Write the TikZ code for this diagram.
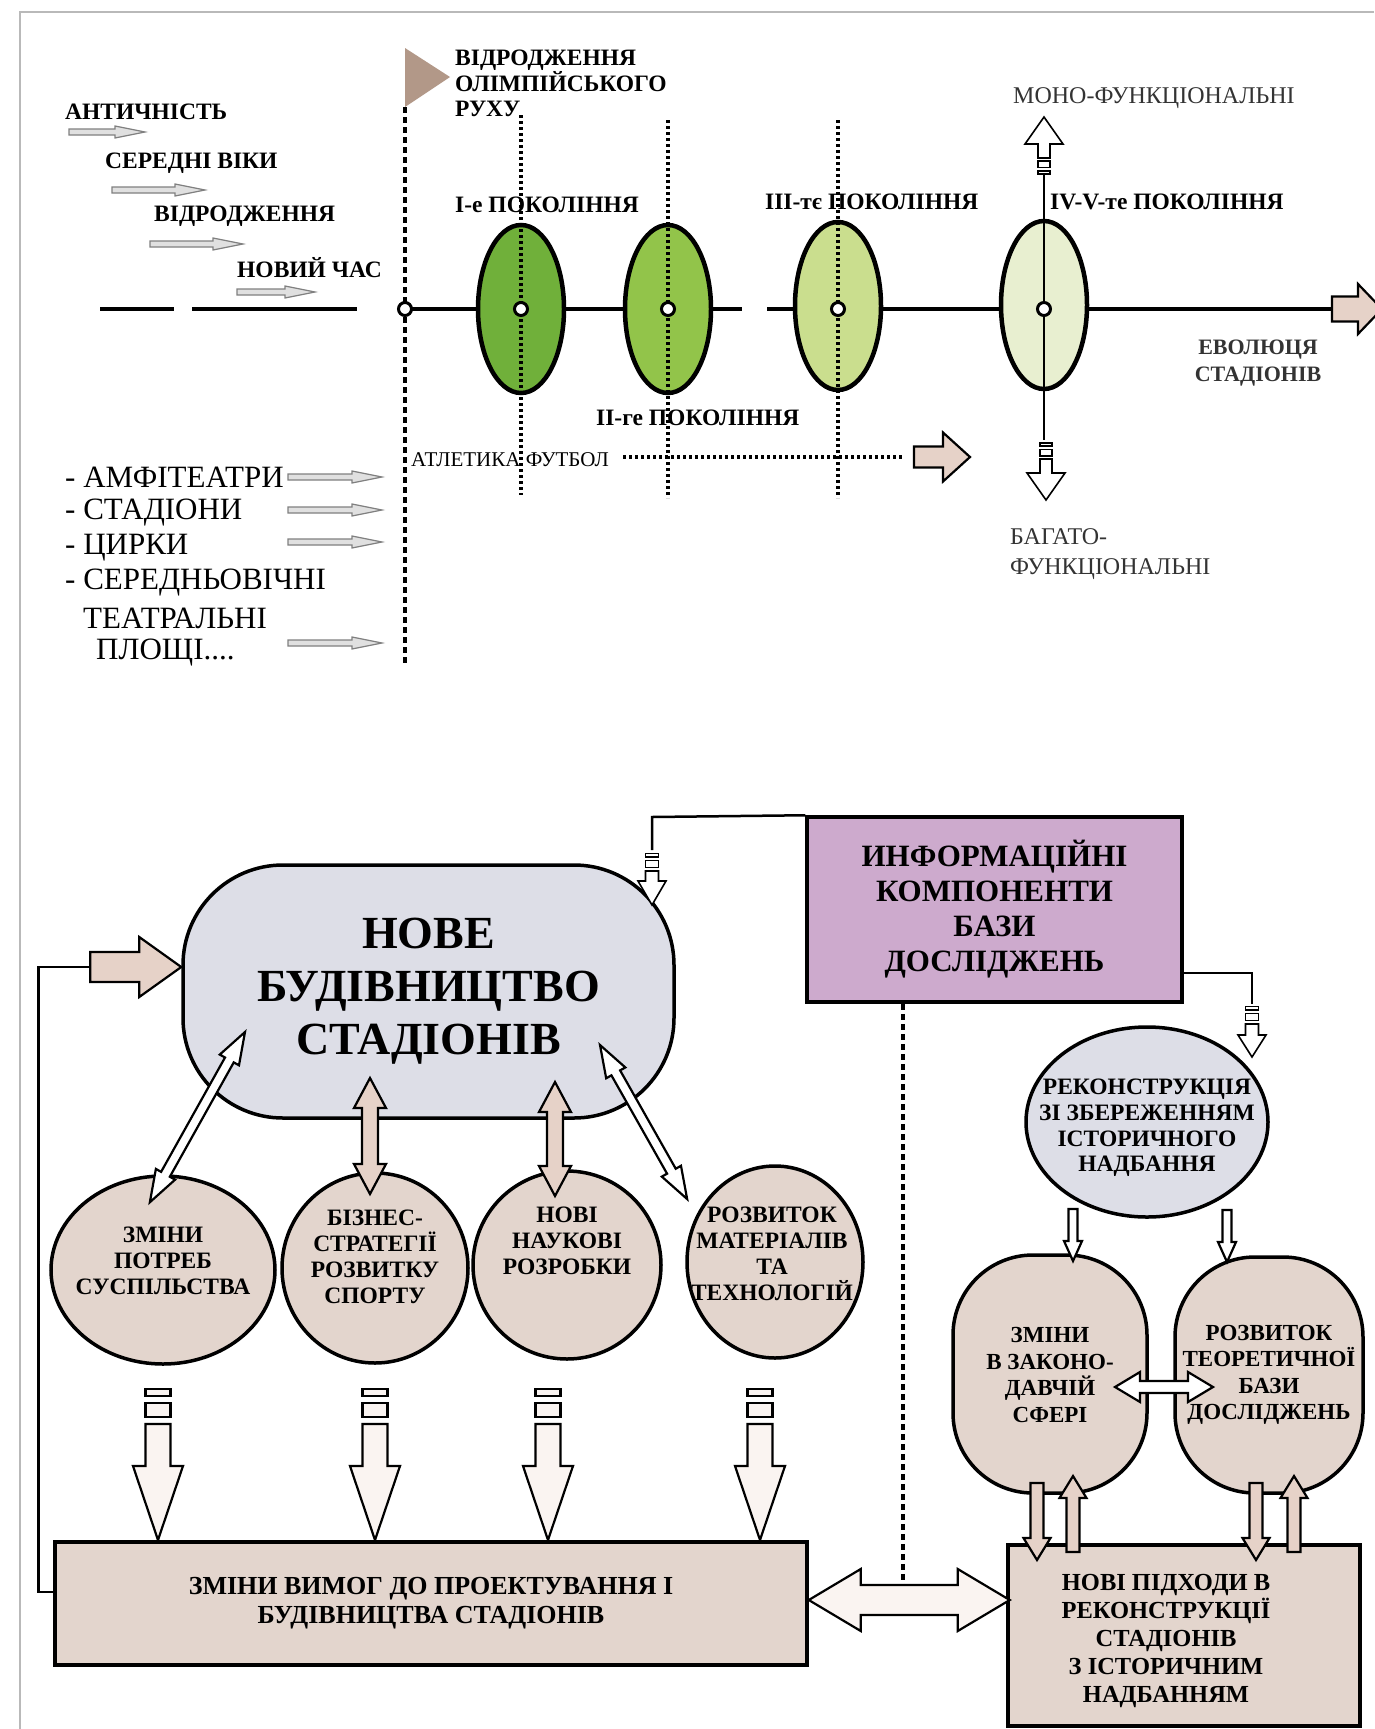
\documentclass[tikz,border=0pt]{standalone}
\usepackage{fontspec}
\setmainfont{Liberation Serif}
\usetikzlibrary{shapes.geometric,calc}

\definecolor{greenA}{RGB}{112,176,58}
\definecolor{greenB}{RGB}{146,196,74}
\definecolor{greenC}{RGB}{202,222,142}
\definecolor{greenD}{RGB}{232,239,208}
\definecolor{lav}{RGB}{221,222,231}
\definecolor{lilac}{RGB}{205,170,205}
\definecolor{beige}{RGB}{227,213,205}
\definecolor{pinkarr}{RGB}{230,210,200}
\definecolor{palearr}{RGB}{250,244,241}
\definecolor{flagc}{RGB}{178,152,136}

\tikzset{
  % block arrow, tip at the origin, pointing along +x
  pics/blk/.style n args={4}{code={%
    \path[pic actions] (-#1,-#2) -- (-#4,-#2) -- (-#4,-#3) -- (0,0) -- (-#4,#3) -- (-#4,#2) -- (-#1,#2) -- cycle;}},
  % the same with two small bars behind the tail
  pics/blkb/.style n args={5}{code={%
    \path[pic actions] (-#1-5*#5,-#2) rectangle (-#1-4*#5,#2);
    \path[pic actions] (-#1-3*#5,-#2) rectangle (-#1-#5,#2);
    \path[pic actions] (-#1,-#2) -- (-#4,-#2) -- (-#4,-#3) -- (0,0) -- (-#4,#3) -- (-#4,#2) -- (-#1,#2) -- cycle;}},
  % two-headed block arrow from the origin along +x
  pics/dblk/.style n args={4}{code={%
    \path[pic actions] (0,0) -- (#4,-#3) -- (#4,-#2) -- ({#1-#4},-#2) -- ({#1-#4},-#3) -- (#1,0)
      -- ({#1-#4},#3) -- ({#1-#4},#2) -- (#4,#2) -- (#4,#3) -- cycle;}},
  lbl/.style={font=\bfseries\fontsize{23.5}{25}\selectfont, inner sep=0pt},
  lblr/.style={font=\fontsize{24}{30}\selectfont, inner sep=0pt, text=black!80},
  lst/.style={font=\fontsize{31}{34}\selectfont, inner sep=0pt},
  ctext/.style={font=\bfseries\fontsize{23.5}{26}\selectfont, inner sep=0pt, align=center},
  gen/.style={ellipse, draw, line width=4.5pt, minimum width=86pt, minimum height=168pt},
  dotc/.style={circle, draw, fill=white, line width=3pt, minimum size=13pt, inner sep=0pt},
  disc/.style={ellipse, draw, line width=3.5pt, fill=beige, inner sep=0pt},
  oval/.style={rectangle, rounded corners=80pt, draw, line width=3.5pt, fill=beige},
  box/.style={rectangle, draw, line width=3.5pt},
  tline/.style={line width=4.5pt},
  gdots/.style={line width=3.2pt, dash pattern=on 3pt off 3pt},
  bigdots/.style={line width=4.5pt, dash pattern=on 6pt off 4pt},
  conn/.style={line width=2.5pt},
  arrw/.style={draw, line width=2.2pt, line join=miter},
  thinarrw/.style={draw, line width=1.6pt, line join=miter, fill=white},
  grayarr/.style={draw=black!50, fill=black!12, line width=1.2pt},
}

\begin{document}
\begin{tikzpicture}[x=1pt,y=-1pt]
  \useasboundingbox (0,0) rectangle (1374,1729);
  \draw[gray!55, line width=2pt] (20,1729) -- (20,12) -- (1374,12);

  % epochs
  \node[lbl, anchor=west] (ant) at (65,112) {АНТИЧНІСТЬ};
  \node[lbl, anchor=west] (sv) at (105,163) {СЕРЕДНІ ВІКИ};
  \node[lbl, anchor=west] (vid) at (154,216) {ВІДРОДЖЕННЯ};
  \node[lbl, anchor=west] (nch) at (237,268) {НОВИЙ ЧАС};
  \pic[grayarr] at (145,132) {blk={76}{3}{6}{30}};
  \pic[grayarr] at (205,190) {blk={93}{3}{6}{30}};
  \pic[grayarr] at (243,244) {blk={93}{3}{6}{30}};
  \pic[grayarr] at (315,292) {blk={78}{3}{6}{30}};

  % time axis
  \draw[tline] (100,309) -- (174,309) (192,309) -- (357,309);
  \draw[tline] (405,309) -- (742,309) (767,309) -- (1334,309);
  \pic[arrw, fill=pinkarr] at (1382,309) {blk={50}{12.5}{25}{24}};

  \node[gen, fill=greenA] (g1) at (521,309) {};
  \node[gen, fill=greenB] (g2) at (668,309) {};
  \node[gen, fill=greenC] (g3) at (838,306) {};
  \node[gen, fill=greenD] (g4) at (1044,305) {};
  \draw[gdots] (g1 |- 0,115) -- (g1 |- 0,495);
  \draw[gdots] (g2 |- 0,120) -- (g2 |- 0,498);
  \draw[gdots] (g3 |- 0,120) -- (g3 |- 0,498);
  \draw[conn] (g4 |- 0,175) -- (g4 |- 0,440);

  \fill[flagc] (405,48) -- (450,77) -- (405,107) -- cycle;
  \draw[bigdots] (405,107) -- (405,665);
  \node[dotc] (t0) at (405,309) {};
  \foreach \g in {g1,g2,g3,g4}
    \node[dotc] (\g c) at (\g |- 0,309) {};

  \node[lbl, anchor=north west, align=left] (olymp) at (455,50) {ВІДРОДЖЕННЯ\\ОЛІМПІЙСЬКОГО\\РУХУ};
  \node[lbl, anchor=west] (p1) at (455,205) {І-е ПОКОЛІННЯ};
  \node[lbl, anchor=west] (p2) at (596,418) {ІІ-ге ПОКОЛІННЯ};
  \node[lbl, anchor=west] (p3) at (765,202) {ІІІ-тє ПОКОЛІННЯ};
  \node[lbl, anchor=west] (p4) at (1050,202) {IV-V-те ПОКОЛІННЯ};

  \node[lblr, anchor=west] (mono) at (1013,98) {МОНО-ФУНКЦІОНАЛЬНІ};
  \node[lblr, anchor=north west, align=left] (multi) at (1010,528) {БАГАТО-\\ФУНКЦІОНАЛЬНІ};
  \node[lbl, align=center, font=\bfseries\fontsize{22}{27}\selectfont, text=black!80] (evol) at (1258,363) {ЕВОЛЮЦЯ\\СТАДІОНІВ};
  \pic[thinarrw, rotate=90] at (1044,117) {blkb={41}{6}{19}{27}{3.2}};
  \pic[thinarrw, rotate=-90] at (1046,500) {blkb={41}{6}{19}{27}{3.2}};

  \node[inner sep=0pt, anchor=west, font=\fontsize{21}{22}\selectfont] (atl) at (411,460) {АТЛЕТИКА ФУТБОЛ};
  \draw[gdots] (623,457) -- (903,457);
  \pic[arrw, fill=pinkarr] at (970,457) {blk={56}{10.5}{24.5}{27}};

  % early venues
  \node[lst, anchor=west] (l1) at (65,477) {- АМФІТЕАТРИ};
  \node[lst, anchor=west] (l2) at (65,513) {- СТАДІОНИ};
  \node[lst, anchor=west] (l3) at (65,548) {- ЦИРКИ};
  \node[lst, anchor=west] (l4) at (65,583) {- СЕРЕДНЬОВІЧНІ};
  \node[lst, anchor=west] (l5) at (83,618) {ТЕАТРАЛЬНІ};
  \node[lst, anchor=west] (l6) at (96,653) {ПЛОЩІ....};
  \foreach \y in {477,510,542,643}
    \pic[grayarr] at (382,\y) {blk={94}{3}{6}{30}};

  % ---- lower scheme
  \node[rectangle, rounded corners=100pt, draw, line width=3.5pt, fill=lav, minimum width=491pt, minimum height=253pt,
        align=center, font=\bfseries\fontsize{46}{53}\selectfont] (nove) at (428.5,991.5) {НОВЕ\\БУДІВНИЦТВО\\СТАДІОНІВ};
  \node[box, fill=lilac, minimum width=375pt, minimum height=185pt, align=center,
        font=\bfseries\fontsize{31}{35}\selectfont] (info) at (994.5,909.5) {ИНФОРМАЦІЙНІ\\КОМПОНЕНТИ\\БАЗИ\\ДОСЛІДЖЕНЬ};

  \node[disc, minimum width=224pt, minimum height=188pt] (c1) at (163,1270) {};
  \node[disc, minimum width=186pt, minimum height=190pt] (c2) at (375,1268) {};
  \node[disc, minimum width=188pt, minimum height=188pt] (c3) at (567,1265) {};
  \node[disc, minimum width=176pt, minimum height=192pt] (c4) at (775,1262) {};
  \node[ctext] (c1t) at (163,1261) {ЗМІНИ\\ПОТРЕБ\\СУСПІЛЬСТВА};
  \node[ctext] (c2t) at (375,1257) {БІЗНЕС-\\СТРАТЕГІЇ\\РОЗВИТКУ\\СПОРТУ};
  \node[ctext] (c3t) at (567,1241) {НОВІ\\НАУКОВІ\\РОЗРОБКИ};
  \node[ctext] (c4t) at (772,1254) {РОЗВИТОК\\МАТЕРІАЛІВ\\ТА\\ТЕХНОЛОГІЙ};

  \node[disc, fill=lav, minimum width=242pt, minimum height=190pt] (rek) at (1147,1122) {};
  \node[ctext, font=\bfseries\fontsize{23.5}{25.6}\selectfont] (rekt) at (1147,1128) {РЕКОНСТРУКЦІЯ\\ЗІ ЗБЕРЕЖЕННЯМ\\ІСТОРИЧНОГО\\НАДБАННЯ};

  \node[oval, minimum width=194pt, minimum height=238pt] (ov1) at (1050,1374) {};
  \node[oval, minimum width=188pt, minimum height=236pt] (ov2) at (1269,1375) {};
  \node[ctext, font=\bfseries\fontsize{23}{26.5}\selectfont] (ov1t) at (1050,1375) {ЗМІНИ\\В ЗАКОНО-\\ДАВЧІЙ\\СФЕРІ};
  \node[ctext, font=\bfseries\fontsize{23}{26.5}\selectfont] (ov2t) at (1269,1375) {РОЗВИТОК\\ТЕОРЕТИЧНОЇ\\БАЗИ\\ДОСЛІДЖЕНЬ};

  \node[box, fill=beige, minimum width=752pt, minimum height=123pt, align=center,
        font=\bfseries\fontsize{26}{29}\selectfont] (req) at (431,1603.5) {ЗМІНИ ВИМОГ ДО ПРОЕКТУВАННЯ І\\БУДІВНИЦТВА СТАДІОНІВ};
  \node[box, fill=beige, minimum width=352pt, minimum height=181pt] (newb) at (1184,1635.5) {};
  \node[ctext, font=\bfseries\fontsize{24.5}{28}\selectfont] (newt) at (1166,1641) {НОВІ ПІДХОДИ В\\РЕКОНСТРУКЦІЇ\\СТАДІОНІВ\\З ІСТОРИЧНИМ\\НАДБАННЯМ};

  % feedback and info links
  \coordinate (fb) at (92,967);
  \draw[conn] ([yshift=11.5pt]req.west) -- ++(-15,0) |- (fb);
  \pic[arrw, fill=pinkarr] at (nove.west |- fb) {blk={91}{15}{30}{42}};
  \draw[conn] (info.north west) -- (652,817) -- (652,850);
  \pic[thinarrw, rotate=-90] at (652,905) {blkb={34}{6.5}{14}{24}{3.5}};
  \draw[conn] (info.east |- 0,973) -- (1252,973) -- (1252,1004);
  \pic[thinarrw, rotate=-90] at (1252,1057) {blkb={33}{6.5}{14}{22}{3.5}};
  \draw[bigdots] (info.south -| 903,0) -- (903,1585);
  \pic[arrw, fill=palearr] at (req.east |- 0,1600) {dblk={201}{15}{31}{52}};

  % links of the new construction
  \pic[arrw, fill=white, rotate=-119.2] at (245,1032) {dblk={195}{5}{11}{32}};
  \pic[arrw, fill=pinkarr, rotate=-90] at (370,1078) {dblk={116}{8}{16}{30}};
  \pic[arrw, fill=pinkarr, rotate=-90] at (555,1082) {dblk={114}{8}{16}{30}};
  \pic[arrw, fill=white, rotate=-60.5] at (600,1045) {dblk={177}{5}{11}{32}};
  \foreach \x in {158,375,548,760}
    \pic[arrw, fill=palearr, rotate=-90] at (\x,1540) {blkb={116}{12.5}{25}{74}{7}};

  % reconstruction branch
  \pic[arrw, fill=white, rotate=-90] at (1073,1261) {blk={52}{4.5}{9}{20}};
  \pic[arrw, fill=white, rotate=-90] at (1227,1262) {blk={52}{4.5}{9}{20}};
  \pic[arrw, fill=white] at (1115,1387) {dblk={98}{6}{15}{25}};
  \pic[arrw, fill=pinkarr, rotate=-90] at (1037,1560) {blk={77}{6.5}{13.5}{22}};
  \pic[arrw, fill=pinkarr, rotate=90] at (1073,1476) {blk={76}{6.5}{13.5}{22}};
  \pic[arrw, fill=pinkarr, rotate=-90] at (1256,1560) {blk={77}{6.5}{13.5}{22}};
  \pic[arrw, fill=pinkarr, rotate=90] at (1294,1476) {blk={76}{6.5}{13.5}{22}};
\end{tikzpicture}
\end{document}
